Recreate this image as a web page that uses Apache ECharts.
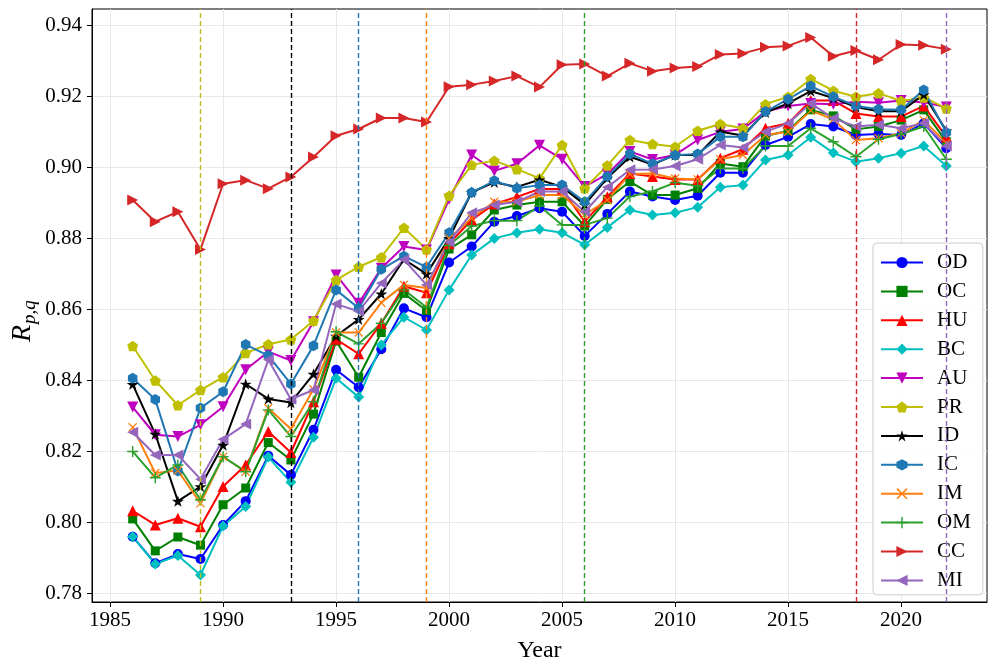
<!DOCTYPE html>
<html><head><meta charset="utf-8">
<script src="https://cdn.jsdelivr.net/npm/echarts@6/dist/echarts.min.js"></script>
<style>html,body{margin:0;padding:0;background:#fff}#c{width:997px;height:672px}</style>
</head><body><div id="c"></div>
<script>
const years = [1986,1987,1988,1989,1990,1991,1992,1993,1994,1995,1996,1997,1998,1999,2000,2001,2002,2003,2004,2005,2006,2007,2008,2009,2010,2011,2012,2013,2014,2015,2016,2017,2018,2019,2020,2021,2022];

const OD = [0.7960,0.7885,0.7911,0.7897,0.7993,0.8060,0.8188,0.8134,0.8261,0.8430,0.8381,0.8488,0.8603,0.8578,0.8732,0.8777,0.8847,0.8863,0.8885,0.8875,0.8807,0.8869,0.8932,0.8918,0.8908,0.8920,0.8985,0.8985,0.9063,0.9086,0.9122,0.9115,0.9091,0.9094,0.9091,0.9124,0.9054];
const OC = [0.8010,0.7920,0.7959,0.7936,0.8050,0.8097,0.8225,0.8176,0.8305,0.8511,0.8409,0.8535,0.8645,0.8597,0.8770,0.8810,0.8880,0.8894,0.8903,0.8903,0.8835,0.8910,0.8960,0.8922,0.8922,0.8941,0.9011,0.9002,0.9088,0.9103,0.9162,0.9145,0.9107,0.9115,0.9133,0.9162,0.9072];
const HU = [0.8033,0.7993,0.8012,0.7988,0.8101,0.8162,0.8256,0.8197,0.8340,0.8516,0.8475,0.8561,0.8665,0.8647,0.8785,0.8852,0.8897,0.8917,0.8939,0.8939,0.8847,0.8917,0.8983,0.8974,0.8966,0.8966,0.9026,0.9051,0.9110,0.9124,0.9188,0.9188,0.9152,0.9143,0.9143,0.9173,0.9086];
const BC = [0.7960,0.7883,0.7907,0.7852,0.7990,0.8045,0.8184,0.8113,0.8240,0.8406,0.8353,0.8500,0.8578,0.8542,0.8655,0.8753,0.8800,0.8816,0.8826,0.8816,0.8782,0.8831,0.8880,0.8866,0.8872,0.8888,0.8944,0.8950,0.9021,0.9035,0.9085,0.9041,0.9016,0.9026,0.9040,0.9060,0.9004];
const AU = [0.8325,0.8247,0.8242,0.8275,0.8326,0.8430,0.8481,0.8456,0.8565,0.8697,0.8617,0.8716,0.8777,0.8767,0.8910,0.9035,0.8990,0.9010,0.9062,0.9023,0.8946,0.8981,0.9045,0.9022,0.9035,0.9077,0.9100,0.9108,0.9157,0.9173,0.9180,0.9178,0.9185,0.9182,0.9188,0.9183,0.9170];
const PR = [0.8497,0.8400,0.8330,0.8373,0.8409,0.8477,0.8502,0.8515,0.8568,0.8683,0.8720,0.8747,0.8830,0.8769,0.8920,0.9007,0.9019,0.8995,0.8969,0.9063,0.8941,0.9005,0.9077,0.9066,0.9058,0.9103,0.9122,0.9110,0.9178,0.9199,0.9249,0.9216,0.9199,0.9209,0.9187,0.9197,0.9166];
const ID = [0.8389,0.8249,0.8060,0.8101,0.8218,0.8390,0.8348,0.8338,0.8418,0.8525,0.8572,0.8644,0.8741,0.8700,0.8800,0.8930,0.8958,0.8945,0.8965,0.8945,0.8895,0.8970,0.9030,0.9008,0.9035,0.9035,0.9100,0.9090,0.9155,0.9180,0.9215,0.9195,0.9170,0.9158,0.9158,0.9205,0.9103];
const IC = [0.8406,0.8346,0.8145,0.8322,0.8368,0.8501,0.8470,0.8390,0.8498,0.8655,0.8603,0.8713,0.8750,0.8719,0.8816,0.8929,0.8962,0.8941,0.8950,0.8950,0.8903,0.8974,0.9038,0.9010,0.9034,0.9038,0.9086,0.9086,0.9157,0.9192,0.9229,0.9199,0.9173,0.9164,0.9162,0.9218,0.9098];
const IM = [0.8268,0.8139,0.8146,0.8054,0.8185,0.8143,0.8322,0.8263,0.8375,0.8535,0.8535,0.8619,0.8669,0.8660,0.8800,0.8857,0.8903,0.8903,0.8922,0.8922,0.8866,0.8908,0.8981,0.8983,0.8969,0.8966,0.9023,0.9035,0.9091,0.9100,0.9160,0.9135,0.9077,0.9082,0.9096,0.9133,0.9068];
const OM = [0.8200,0.8126,0.8162,0.8064,0.8185,0.8143,0.8317,0.8242,0.8340,0.8537,0.8503,0.8561,0.8655,0.8606,0.8780,0.8835,0.8850,0.8850,0.8891,0.8838,0.8838,0.8857,0.8918,0.8932,0.8957,0.8948,0.8997,0.8997,0.9060,0.9060,0.9110,0.9072,0.9030,0.9079,0.9094,0.9115,0.9023];
const CC = [0.8908,0.8847,0.8875,0.8769,0.8954,0.8964,0.8940,0.8973,0.9029,0.9089,0.9108,0.9139,0.9139,0.9128,0.9227,0.9233,0.9243,0.9257,0.9226,0.9289,0.9291,0.9257,0.9293,0.9271,0.9280,0.9284,0.9318,0.9321,0.9338,0.9342,0.9366,0.9313,0.9329,0.9303,0.9346,0.9344,0.9333];
const MI = [0.8254,0.8190,0.8190,0.8122,0.8234,0.8277,0.8458,0.8347,0.8373,0.8615,0.8595,0.8674,0.8740,0.8669,0.8790,0.8872,0.8894,0.8903,0.8932,0.8932,0.8875,0.8944,0.8993,0.8994,0.9004,0.9023,0.9063,0.9056,0.9100,0.9124,0.9180,0.9138,0.9115,0.9120,0.9110,0.9124,0.9060];

const seriesNames = ['OD','OC','HU','BC','AU','PR','ID','IC','IM','OM','CC','MI'];
const seriesValues = [OD,OC,HU,BC,AU,PR,ID,IC,IM,OM,CC,MI];

const xTicks = [1985,1990,1995,2000,2005,2010,2015,2020];
const yTicks = [0.78,0.80,0.82,0.84,0.86,0.88,0.90,0.92,0.94];

const vlineYears = [1989,1993,1996,1999,2006,2018,2022];
const vlineColors = ['#bcbd22','#000000','#1f77b4','#ff7f0e','#2ca02c','#d62728','#9467bd'];

const colors = ['#0000ff','#008000','#ff0000','#00bfbf','#bf00bf','#bfbf00','#000000','#1f77b4','#ff7f0e','#2ca02c','#d62728','#9467bd'];
const PENT = 'path://M0,-1L0.951,-0.309L0.588,0.809L-0.588,0.809L-0.951,-0.309Z';
const STAR = 'path://M0,-1L0.2245,-0.309L0.951,-0.309L0.363,0.118L0.588,0.809L0,0.382L-0.588,0.809L-0.363,0.118L-0.951,-0.309L-0.2245,-0.309Z';
const HEX = 'path://M0,-1L0.866,-0.5L0.866,0.5L0,1L-0.866,0.5L-0.866,-0.5Z';
const XMK = 'path://M-1,-0.8L-0.8,-1L1,0.8L0.8,1ZM0.8,-1L1,-0.8L-0.8,1L-1,0.8Z';
const PLUS = 'path://M-0.13,-1L0.13,-1L0.13,-0.13L1,-0.13L1,0.13L0.13,0.13L0.13,1L-0.13,1L-0.13,0.13L-1,0.13L-1,-0.13L-0.13,-0.13Z';
const symbols = ['circle','rect','triangle','diamond','triangle',PENT,STAR,HEX,XMK,PLUS,'triangle','triangle'];
const symSizes = [10,9,11,11,11,11,12,11,9,11,11,11];
const symRot = [0,0,0,0,180,0,0,0,0,0,-90,90];

const FONT = 'Liberation Serif';

const series = seriesNames.map((n,i)=>({
  name: n, type: 'line',
  data: years.map((y,j)=>[y, seriesValues[i][j]]),
  symbol: symbols[i], symbolSize: symSizes[i], symbolRotate: symRot[i], symbolKeepAspect: true,
  showSymbol: true,
  lineStyle: {color: colors[i], width: 2},
  itemStyle: {color: colors[i], borderWidth: 0},
  emphasis: {disabled: true},
  z: 3
}));
series.unshift({
  type: 'line', data: [], silent: true, z: 2,
  markLine: {
    silent: true, symbol: ['none','none'], label: {show: false}, animation: false,
    data: vlineYears.map((y,i)=>({xAxis: y, lineStyle: {color: vlineColors[i], type: [5,3], width: 1.4}}))
  }
});

const chart = echarts.init(document.getElementById('c'), null, {renderer: 'canvas'});
chart.setOption({
  animation: false,
  backgroundColor: '#ffffff',
  grid: {left: 92, right: 10, top: 9, bottom: 70, show: true, borderColor: '#000', borderWidth: 1, containLabel: false, outerBoundsMode: 'none'},
  xAxis: {
    type: 'value', min: 1984.2, max: 2023.8, splitNumber: 8,
    name: 'Year', nameLocation: 'middle', nameGap: 37,
    nameTextStyle: {fontFamily: FONT, fontSize: 24, color: '#000'},
    axisLine: {show: true, lineStyle: {color: '#000', width: 1}},
    axisTick: {show: true, customValues: xTicks, length: 5, lineStyle: {color: '#000'}},
    axisLabel: {customValues: xTicks, fontFamily: FONT, fontSize: 21, color: '#000', margin: 8, formatter: v => String(v)},
    splitLine: {show: true, lineStyle: {color: '#e8e8e8', width: 1}}
  },
  yAxis: {
    type: 'value', min: 0.7776, max: 0.9446, splitNumber: 8,
    axisLine: {show: true, lineStyle: {color: '#000', width: 1}},
    axisTick: {show: true, customValues: yTicks, length: 5, lineStyle: {color: '#000'}},
    axisLabel: {customValues: yTicks, fontFamily: FONT, fontSize: 21, color: '#000', margin: 10, formatter: v => v.toFixed(2)},
    splitLine: {show: true, lineStyle: {color: '#e8e8e8', width: 1}}
  },
  legend: {
    data: seriesNames, orient: 'vertical', left: 873, top: 243,
    itemWidth: 42, itemHeight: 14, itemGap: 7.9,
    padding: [9, 12, 4, 7],
    backgroundColor: 'rgba(255,255,255,0.85)', borderColor: '#cccccc', borderWidth: 1, borderRadius: 4,
    textStyle: {fontFamily: FONT, fontSize: 21, color: '#000', lineHeight: 20, padding: [0,0,0,9]},
    selectedMode: false
  },
  graphic: [{
    type: 'group', x: 23, y: 342, rotation: Math.PI/2,
    children: [
      {type: 'text', x: 0, y: 0, style: {text: 'R', font: 'italic 28px "Liberation Serif"', fill: '#000', textAlign: 'left', textVerticalAlign: 'middle'}},
      {type: 'text', x: 18, y: 7, style: {text: 'p,q', font: 'italic 19px "Liberation Serif"', fill: '#000', textAlign: 'left', textVerticalAlign: 'middle'}}
    ]
  }],
  series: series
});
</script>
</body></html>
